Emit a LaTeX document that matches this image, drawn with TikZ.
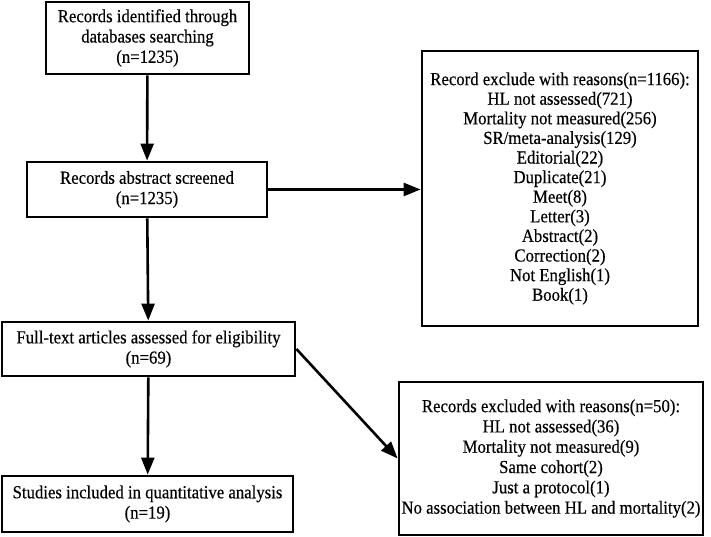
\documentclass[tikz,border=0pt]{standalone}
\usepackage{fontspec}
\setmainfont{Liberation Serif}[FakeStretch=0.91, FakeBold=0.4]
\usetikzlibrary{arrows.meta}
\tikzset{
	flowbox/.style={draw=black, line width=2.8pt, align=center, inner sep=0pt, font=\fontsize{18.4}{20.3}\selectfont},
	flowarrow/.style={line width=2.6pt, -{Triangle[length=17pt,width=13pt]}}
}

\begin{document}
\begin{tikzpicture}[x=1pt, y=1pt]
			%%%%% START %%%%%
			
			\useasboundingbox (0, 0) rectangle (711, 537);
			
			\node[flowbox, minimum width=203, minimum height=72] (ident) at (147.5, 499) {Records identified through\\databases searching\\(n=1235)};
			\node[flowbox, minimum width=240, minimum height=55] (screen) at (147, 347.5) {Records abstract screened\\(n=1235)};
			\node[flowbox, minimum width=293, minimum height=54] (fulltext) at (148.5, 188) {Full-text articles assessed for eligibility\\(n=69)};
			\node[flowbox, minimum width=291, minimum height=56] (incl) at (147.5, 33) {Studies included in quantitative analysis\\(n=19)};
			
			\node[flowbox, minimum width=276, minimum height=275, font=\fontsize{18.4}{19.6}\selectfont] (excl1) at (560, 348.5) {Record exclude with reasons(n=1166):\\HL not assessed(721)\\Mortality not measured(256)\\SR/meta-analysis(129)\\Editorial(22)\\Duplicate(21)\\Meet(8)\\Letter(3)\\Abstract(2)\\Correction(2)\\Not English(1)\\Book(1)};
			\node[flowbox, minimum width=304, minimum height=153] (excl2) at (551, 78.5) {Records excluded with reasons(n=50):\\HL not assessed(36)\\Mortality not measured(9)\\Same cohort(2)\\Just a protocol(1)\\No association between HL and mortality(2)};
			
			\draw[flowarrow] (ident) -- (screen);
			\draw[flowarrow] (screen) -- (fulltext);
			\draw[flowarrow] (fulltext) -- (incl);
			\draw[flowarrow] (screen.east) -- (excl1.west |- screen.east);
			\draw[flowarrow] (fulltext.east) -- (excl2.west);
			
			%%%%% END %%%%%
		\end{tikzpicture}
\end{document}
